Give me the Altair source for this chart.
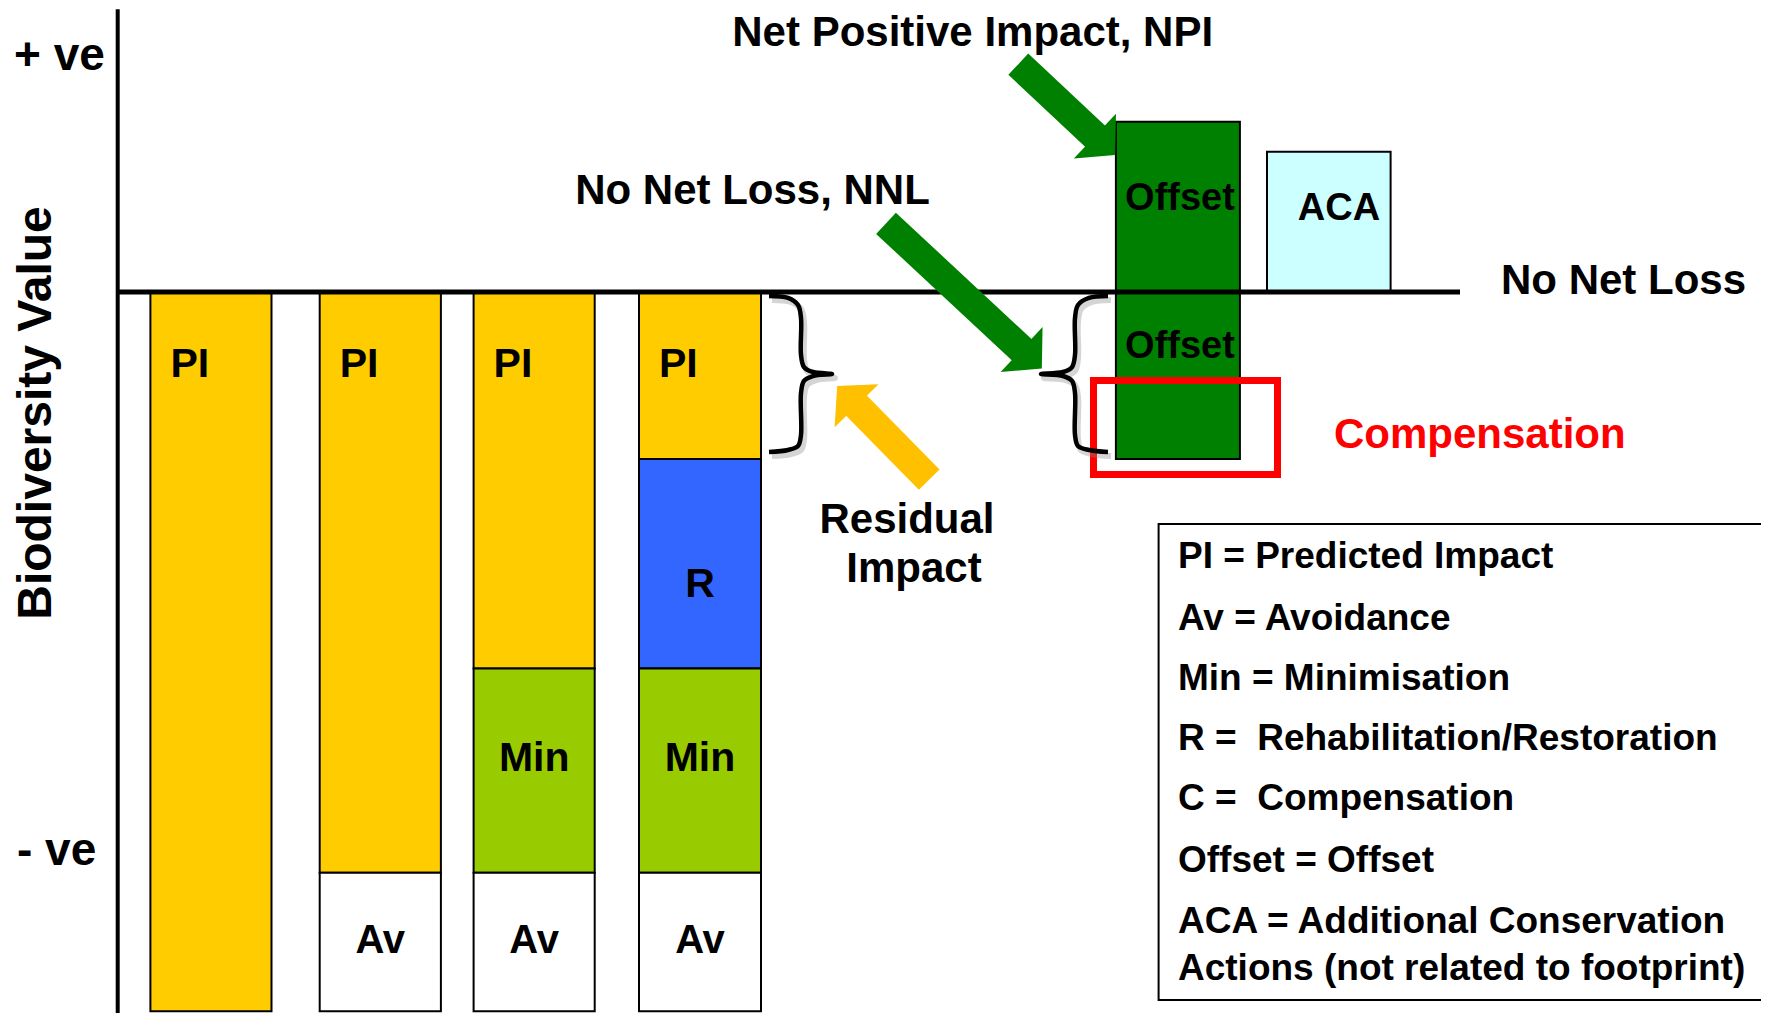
import altair as alt
import pandas as pd

FONT = "Liberation Sans"

# ---- coordinate system: x in layout units, y = biodiversity value (0 = no net loss) ----
X_DOMAIN = [0.8, 176.1]
Y_DOMAIN = [-100.139, 39.444]

# ---- stacked blocks ----
rect_x0 = [15.04, 31.97, 31.97, 47.36, 47.36, 47.36, 63.9, 63.9, 63.9, 63.9, 111.59, 111.59, 126.7]
rect_x1 = [27.15, 44.09, 44.09, 59.47, 59.47, 59.47, 76.1, 76.1, 76.1, 76.1, 123.99, 123.99, 139.06]
rect_top = [0, 0, -80.65, 0, -52.3, -80.65, 0, -23.2, -52.3, -80.65, 23.65, 0, 19.49]
rect_bottom = [-99.9, -80.65, -99.9, -52.3, -80.65, -99.9, -23.2, -52.3, -80.65, -99.9, 0, -23.2, 0]
rect_kind = ["PI", "PI", "Av", "PI", "Min", "Av", "PI", "R", "Min", "Av", "Offset", "Offset", "ACA"]
kind_domain = ["PI", "Av", "Min", "R", "Offset", "ACA"]
kind_range = ["#ffcc00", "#ffffff", "#99cc00", "#3366ff", "#008000", "#ccffff"]

# ---- block labels (centered) ----
c_text = ["Net Positive Impact, NPI", "No Net Loss, NNL", "Residual", "Impact", "R",
          "Min", "Min", "Av", "Av", "Av", "Offset", "Offset", "ACA"]
c_x = [97.27, 75.25, 90.7, 91.4, 70.0, 53.42, 70.0, 38.03, 53.42, 70.0, 118.0, 118.0, 133.9]
c_y = [34.2, 12.22, -33.47, -40.28, -42.32, -66.49, -66.49, -91.85, -91.85, -91.85, 11.39, -9.21, 10.0]
c_size = [42, 42, 42, 42, 41, 41, 41, 40, 40, 40, 38, 38, 38]

# ---- left aligned texts ----
NB = "\u00a0"
l_text = ["PI", "PI", "PI", "PI", "+ ve", "- ve", "No Net Loss", "Compensation",
          "PI = Predicted Impact", "Av = Avoidance", "Min = Minimisation",
          "R =" + NB + " Rehabilitation/Restoration", "C =" + NB + " Compensation", "Offset = Offset",
          "ACA = Additional Conservation", "Actions (not related to footprint)"]
l_x = [17.04, 33.97, 49.36, 65.9, 1.4, 1.7, 150.1, 133.4,
       117.8, 117.8, 117.8, 117.8, 117.8, 117.8, 117.8, 117.8]
l_y = [-11.76, -11.76, -11.76, -11.76, 30.83, -79.58, -0.28, -21.71,
       -38.38, -46.94, -55.28, -63.61, -72.0, -80.51, -89.07, -95.56]
l_size = [41, 41, 41, 41, 46, 46, 42, 42, 37, 37, 37, 37, 37, 37, 37, 37]
l_color = ["black"] * 7 + ["#ff0000"] + ["black"] * 8

# ---- braces ----
brace_rx = [76.9, 78.8, 79.8, 80.1, 80.1, 80.4, 81.3, 83.2, 81.3, 80.4, 80.1, 80.1, 79.8, 78.8, 76.9]
brace_lx = [110.8, 108.9, 107.8, 107.5, 107.5, 107.2, 106.3, 104.1, 106.3, 107.2, 107.5, 107.5, 107.8, 108.9, 110.8]
brace_y = [-0.56, -0.83, -1.81, -3.61, -8.75, -10.42, -11.11, -11.39, -11.67, -12.36, -14.03, -19.86, -21.39, -21.94, -22.22]

# ---- arrows: shaft tail, shaft end, head centre, heading angle ----
arrow_tail_x = [101.83, 88.6, 92.92]
arrow_tail_y = [31.64, 9.54, -26.07]
arrow_end_x = [109.61, 102.27, 85.55]
arrow_end_y = [21.5, -8.14, -15.64]
arrow_head_x = [110.5, 103.17, 84.69]
arrow_head_y = [20.33, -9.31, -14.42]
arrow_angle = [43.2, 43.0, 225.55]
arrow_color = ["#008000", "#008000", "#ffc000"]

# ---- frames: compensation box and key box ----
comp_box = {"x0": [109.35], "x1": [127.75], "top": [-12.29], "bottom": [-25.35]}
key_box = {"x0": [115.86], "x1": [180.0], "top": [-32.22], "bottom": [-98.33]}

xs = alt.Scale(domain=X_DOMAIN, nice=False, zero=False)
ys = alt.Scale(domain=Y_DOMAIN, nice=False, zero=False)

rects = pd.DataFrame({"x0": rect_x0, "x1": rect_x1, "top": rect_top,
                      "bottom": rect_bottom, "kind": rect_kind})
bars = alt.Chart(rects).mark_rect(stroke="black", strokeWidth=2).encode(
    x=alt.X("x0:Q", scale=xs, axis=None), x2="x1:Q",
    y=alt.Y("top:Q", scale=ys, axis=None), y2="bottom:Q",
    fill=alt.Fill("kind:N", scale=alt.Scale(domain=kind_domain, range=kind_range), legend=None),
)


def frame(d, color, width):
    return alt.Chart(pd.DataFrame(d)).mark_rect(
        fillOpacity=0, stroke=color, strokeWidth=width).encode(
        x=alt.X("x0:Q", scale=xs, axis=None), x2="x1:Q",
        y=alt.Y("top:Q", scale=ys, axis=None), y2="bottom:Q")


comp_frame = frame(comp_box, "#ff0000", 7)
key_frame = frame(key_box, "black", 2)

baseline = alt.Chart(pd.DataFrame({"x0": [11.77], "x1": [146.0], "y": [0.0]})).mark_rule(
    color="black", strokeWidth=5).encode(
    x=alt.X("x0:Q", scale=xs, axis=None), x2="x1:Q",
    y=alt.Y("y:Q", scale=ys, axis=None))

yaxis = alt.Chart(pd.DataFrame({"x": [11.77], "y0": [39.26], "y1": [-100.139]})).mark_rule(
    color="black", strokeWidth=4).encode(
    x=alt.X("x:Q", scale=xs, axis=None),
    y=alt.Y("y0:Q", scale=ys, axis=None), y2="y1:Q")

brace_rows = []
for i, (xr, xl, yv) in enumerate(zip(brace_rx, brace_lx, brace_y)):
    brace_rows.append({"b": "r", "i": i, "x": xr, "y": yv})
    brace_rows.append({"b": "l", "i": i, "x": xl, "y": yv})
braces_df = pd.DataFrame(brace_rows)
brace_shadow = alt.Chart(braces_df).mark_line(
    interpolate="catmull-rom", color="#888888", strokeWidth=6, opacity=0.35,
    xOffset=3, yOffset=4).encode(
    x=alt.X("x:Q", scale=xs, axis=None), y=alt.Y("y:Q", scale=ys, axis=None),
    detail="b:N", order="i:Q")
braces = alt.Chart(braces_df).mark_line(
    interpolate="catmull-rom", color="black", strokeWidth=4.5).encode(
    x=alt.X("x:Q", scale=xs, axis=None), y=alt.Y("y:Q", scale=ys, axis=None),
    detail="b:N", order="i:Q")

arrows_df = pd.DataFrame({"tx": arrow_tail_x, "ty": arrow_tail_y, "ex": arrow_end_x,
                          "ey": arrow_end_y, "hx": arrow_head_x, "hy": arrow_head_y,
                          "ang": arrow_angle, "c": arrow_color})
shafts = alt.Chart(arrows_df).mark_rule(strokeWidth=29, strokeCap="butt").encode(
    x=alt.X("tx:Q", scale=xs, axis=None), x2="ex:Q",
    y=alt.Y("ty:Q", scale=ys, axis=None), y2="ey:Q",
    color=alt.Color("c:N", scale=None))
heads = alt.Chart(arrows_df).mark_point(
    shape="M-0.45,-1 L0.45,0 L-0.45,1 Z", filled=True, opacity=1, strokeWidth=0).encode(
    x=alt.X("hx:Q", scale=xs, axis=None), y=alt.Y("hy:Q", scale=ys, axis=None),
    angle=alt.Angle("ang:Q", scale=None), size=alt.value(3782),
    color=alt.Color("c:N", scale=None))

ctext = alt.Chart(pd.DataFrame({"t": c_text, "x": c_x, "y": c_y, "s": c_size})).mark_text(
    font=FONT, fontWeight="bold", align="center", baseline="alphabetic", color="black").encode(
    x=alt.X("x:Q", scale=xs, axis=None), y=alt.Y("y:Q", scale=ys, axis=None),
    text="t:N", size=alt.Size("s:Q", scale=None))

ltext = alt.Chart(pd.DataFrame({"t": l_text, "x": l_x, "y": l_y, "s": l_size, "c": l_color})).mark_text(
    font=FONT, fontWeight="bold", align="left", baseline="alphabetic").encode(
    x=alt.X("x:Q", scale=xs, axis=None), y=alt.Y("y:Q", scale=ys, axis=None),
    text="t:N", size=alt.Size("s:Q", scale=None), color=alt.Color("c:N", scale=None))

ytitle = alt.Chart(pd.DataFrame({"t": ["Biodiversity Value"], "x": [5.05], "y": [-16.81]})).mark_text(
    font=FONT, fontWeight="bold", align="center", baseline="alphabetic", fontSize=48,
    angle=270, color="black").encode(
    x=alt.X("x:Q", scale=xs, axis=None), y=alt.Y("y:Q", scale=ys, axis=None), text="t:N")

chart = alt.layer(
    bars, baseline, yaxis, comp_frame, key_frame, brace_shadow, braces, shafts, heads,
    ctext, ltext, ytitle
).properties(
    width=1753, height=1005, padding=0,
    autosize=alt.AutoSizeParams(type="none"), background="white"
).configure_view(stroke=None)

chart.save("out.html", embed_options={"renderer": "svg", "actions": False})
